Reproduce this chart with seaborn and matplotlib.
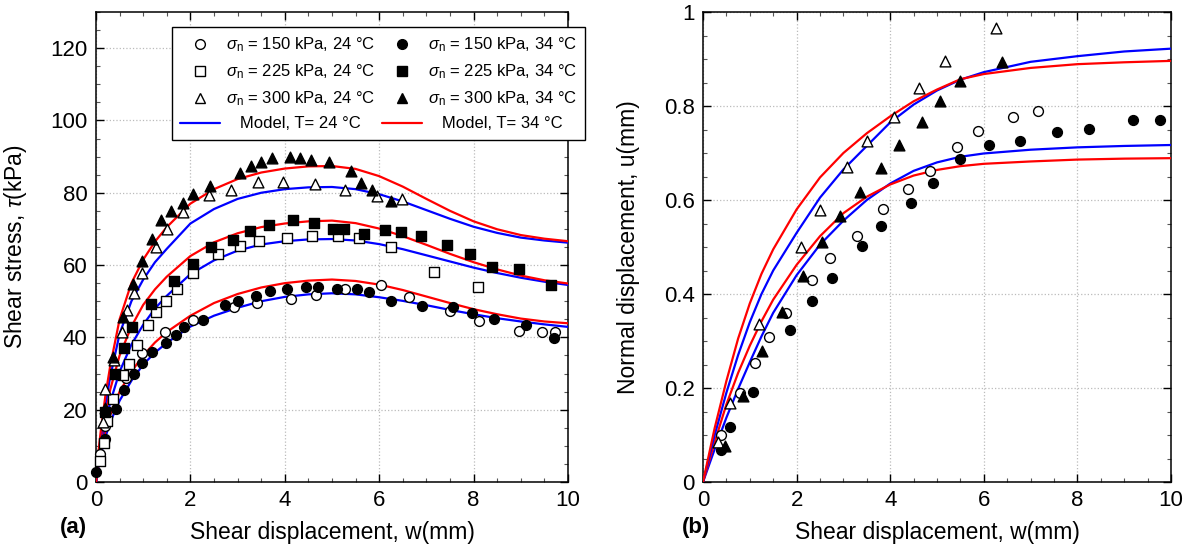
import matplotlib
matplotlib.use("Agg")
import numpy as np
import pandas as pd
import matplotlib.pyplot as plt
import seaborn as sns
from matplotlib.lines import Line2D
from matplotlib.ticker import MultipleLocator, FuncFormatter

sns.set_style("ticks")
plt.rcParams['font.family'] = ['Liberation Sans', 'DejaVu Sans']
plt.rcParams['mathtext.fontset'] = 'custom'
plt.rcParams['mathtext.rm'] = 'Liberation Sans'
plt.rcParams['mathtext.it'] = 'Liberation Sans:italic'
for k in ['text.color', 'axes.labelcolor', 'xtick.color', 'ytick.color', 'axes.edgecolor']:
    plt.rcParams[k] = 'black'

# ---------------- (a) shear stress data ----------------
w_150_24 = [0.08, 0.19, 0.64, 0.97, 1.46, 2.06, 2.92, 3.42, 4.13, 4.66, 5.28, 6.04, 6.63, 7.49, 8.12, 8.97, 9.44, 9.72]
t_150_24 = [7.7, 15.5, 28.7, 35.6, 41.4, 44.8, 48.4, 49.4, 50.6, 51.7, 53.4, 54.5, 51.2, 47.3, 44.4, 41.8, 41.4, 41.4]

w_150_34 = [0.01, 0.19, 0.42, 0.59, 0.81, 0.97, 1.18, 1.48, 1.69, 1.87, 2.26, 2.73, 3.01, 3.40, 3.69, 4.04, 4.45, 4.71,
            5.11, 5.54, 5.78, 6.24, 6.91, 7.56, 7.97, 8.44, 9.10, 9.70]
t_150_34 = [2.9, 11.8, 20.2, 25.4, 30.0, 33.0, 36.0, 38.5, 40.6, 42.8, 44.8, 48.9, 50.0, 51.5, 52.8, 53.3, 53.8, 53.8,
            53.4, 53.3, 52.6, 50.0, 48.7, 48.3, 46.8, 45.1, 43.4, 39.9]

w_225_24 = [0.08, 0.17, 0.24, 0.37, 0.58, 0.70, 0.86, 1.11, 1.27, 1.48, 1.71, 2.05, 2.58, 3.05, 3.46, 4.04, 4.58,
            5.13, 5.58, 6.24, 7.17, 8.09]
t_225_24 = [5.7, 10.9, 17.0, 23.0, 29.6, 32.6, 37.9, 43.5, 47.1, 50.0, 53.4, 57.7, 63.0, 65.2, 66.6, 67.5, 68.0,
            68.0, 67.4, 64.9, 58.1, 54.0]

w_225_34 = [0.19, 0.40, 0.60, 0.76, 1.17, 1.66, 2.06, 2.43, 2.90, 3.26, 3.67, 4.18, 4.61, 5.03, 5.25, 5.68, 6.13,
            6.46, 6.88, 7.43, 7.92, 8.40, 8.96, 9.63]
t_225_34 = [19.4, 29.9, 37.1, 43.0, 49.2, 55.7, 60.3, 64.9, 66.9, 69.5, 71.0, 72.4, 71.6, 70.1, 70.1, 68.6, 69.7,
            69.2, 68.0, 65.5, 63.0, 59.4, 59.0, 54.5]

w_300_24 = [0.14, 0.19, 0.38, 0.55, 0.65, 0.81, 0.97, 1.27, 1.51, 1.85, 2.40, 2.85, 3.43, 3.96, 4.65, 5.27, 5.95, 6.49]
t_300_24 = [16.7, 25.6, 33.7, 41.6, 47.6, 52.3, 57.9, 65.1, 70.0, 74.6, 79.3, 80.9, 82.9, 83.0, 82.3, 80.9, 79.2, 78.4]

w_300_34 = [0.19, 0.37, 0.58, 0.79, 0.97, 1.18, 1.38, 1.58, 1.84, 2.05, 2.42, 3.05, 3.28, 3.49, 3.73, 4.10, 4.32,
            4.56, 4.93, 5.40, 5.61, 5.85, 6.26]
t_300_34 = [20.5, 34.6, 45.7, 54.7, 61.2, 67.1, 72.6, 75.0, 77.3, 79.6, 81.8, 85.5, 87.4, 88.4, 89.6, 89.9, 89.6,
            89.1, 88.6, 86.1, 82.7, 80.7, 77.8]

# model curves (a)
mw = [0, 0.05, 0.1, 0.2, 0.3, 0.5, 0.75, 1, 1.25, 1.5, 2, 2.5, 3, 3.5, 4, 4.5, 5, 5.5, 6, 6.5, 7, 7.5, 8, 8.5, 9,
      9.5, 10]
m_150_24 = [0, 4, 7.5, 12.5, 16.5, 22.5, 28, 32.5, 35.8, 38.5, 43, 46, 48.2, 50, 51.2, 51.9, 52.2, 51.9, 51.1,
            50.1, 48.9, 47.6, 46.4, 45.3, 44.4, 43.6, 42.9]
m_150_34 = [0, 4.5, 8.5, 14, 18.5, 25, 30.5, 35, 38.6, 41.5, 46, 49.5, 52, 53.8, 55, 55.7, 56, 55.6, 54.6, 53.1,
            51.3, 49.5, 47.8, 46.4, 45.2, 44.4, 43.9]
m_225_24 = [0, 5, 9.5, 16.5, 22, 30.5, 38, 43.5, 48, 51.5, 57.5, 61.3, 64, 65.7, 66.6, 67.1, 67.2, 66.8, 65.8,
            64.4, 62.7, 61.0, 59.3, 57.8, 56.5, 55.4, 54.5]
m_225_34 = [0, 6, 11, 19, 25.5, 35, 43, 49, 53.3, 56.8, 62.5, 66.3, 68.8, 70.5, 71.5, 72.1, 72.3, 71.6, 70.1,
            68.0, 65.6, 63.1, 60.8, 58.8, 57.1, 55.8, 54.9]
m_300_24 = [0, 7, 12.5, 21.5, 29, 41, 50, 56, 60.8, 64.5, 71.5, 75.5, 78.3, 80, 81, 81.5, 81.6, 81.0, 79.6, 77.6,
            75.2, 72.8, 70.6, 68.9, 67.6, 66.8, 66.2]
m_300_34 = [0, 8, 14, 24, 32, 45, 55, 61.5, 66.5, 70.5, 77, 81, 83.8, 85.6, 86.7, 87.3, 87.4, 86.6, 84.6, 81.7,
            78.3, 75.0, 72.1, 69.9, 68.3, 67.3, 66.6]

# ---------------- (b) normal displacement data ----------------
u_w_150_24 = [0.38, 0.78, 1.11, 1.40, 1.77, 2.32, 2.71, 3.30, 3.85, 4.39, 4.85, 5.43, 5.88, 6.63, 7.16]
u_150_24 = [0.100, 0.189, 0.254, 0.308, 0.360, 0.430, 0.477, 0.524, 0.580, 0.623, 0.662, 0.713, 0.747, 0.777, 0.790]

u_w_150_34 = [0.38, 0.58, 1.06, 1.86, 2.32, 2.75, 3.39, 3.80, 4.44, 4.91, 5.49, 6.12, 6.77, 7.56, 8.25, 9.19, 9.76]
u_150_34 = [0.068, 0.116, 0.191, 0.323, 0.385, 0.435, 0.502, 0.545, 0.594, 0.637, 0.687, 0.716, 0.726, 0.744,
            0.751, 0.770, 0.770]

u_w_300_24 = [0.31, 0.58, 1.20, 2.09, 2.50, 3.08, 3.50, 4.08, 4.62, 5.17, 6.25]
u_300_24 = [0.086, 0.169, 0.336, 0.501, 0.579, 0.671, 0.726, 0.776, 0.839, 0.896, 0.965]

u_w_300_34 = [0.47, 0.86, 1.25, 1.68, 2.13, 2.54, 2.93, 3.35, 3.80, 4.19, 4.69, 5.06, 5.49, 6.38]
u_300_34 = [0.077, 0.183, 0.279, 0.362, 0.439, 0.510, 0.567, 0.618, 0.669, 0.717, 0.767, 0.811, 0.853, 0.893]

uw = [0, 0.25, 0.5, 0.75, 1, 1.25, 1.5, 2, 2.5, 3, 3.5, 4, 4.5, 5, 5.5, 6, 7, 8, 9, 10]
mu_150_24 = [0, 0.07, 0.137, 0.198, 0.255, 0.31, 0.36, 0.44, 0.505, 0.556, 0.60, 0.635, 0.662, 0.68, 0.692,
             0.699, 0.707, 0.712, 0.715, 0.717]
mu_150_34 = [0, 0.085, 0.165, 0.232, 0.29, 0.342, 0.388, 0.462, 0.523, 0.572, 0.607, 0.633, 0.652, 0.664, 0.672,
             0.677, 0.682, 0.686, 0.688, 0.689]
mu_300_24 = [0, 0.10, 0.19, 0.27, 0.34, 0.40, 0.45, 0.53, 0.605, 0.665, 0.715, 0.765, 0.803, 0.833, 0.856,
             0.872, 0.894, 0.906, 0.916, 0.922]
mu_300_34 = [0, 0.115, 0.215, 0.305, 0.38, 0.443, 0.495, 0.58, 0.648, 0.70, 0.742, 0.778, 0.81, 0.835, 0.857,
             0.868, 0.881, 0.889, 0.893, 0.896]

lab_150_24 = r'$\sigma_{\rm n}$ = 150 kPa, 24 °C'
lab_225_24 = r'$\sigma_{\rm n}$ = 225 kPa, 24 °C'
lab_300_24 = r'$\sigma_{\rm n}$ = 300 kPa, 24 °C'
lab_150_34 = r'$\sigma_{\rm n}$ = 150 kPa, 34 °C'
lab_225_34 = r'$\sigma_{\rm n}$ = 225 kPa, 34 °C'
lab_300_34 = r'$\sigma_{\rm n}$ = 300 kPa, 34 °C'

fig = plt.figure(figsize=(11.95, 5.52), dpi=100)
ax1 = fig.add_axes([96/1195, 70/552, 472/1195, 470/552])
ax2 = fig.add_axes([703/1195, 70/552, 468/1195, 470/552])


def model(ax, x, y, c):
    sns.lineplot(x=x, y=y, ax=ax, color=c, lw=1.6, sort=False, estimator=None, zorder=3)


def pts(ax, x, y, m, filled, s):
    sns.scatterplot(x=x, y=y, ax=ax, marker=m, s=s, facecolor='black' if filled else 'white',
                    edgecolor='black', linewidth=1.0, zorder=4, clip_on=False)


# panel (a)
model(ax1, mw, m_150_24, 'blue')
model(ax1, mw, m_150_34, 'red')
model(ax1, mw, m_225_24, 'blue')
model(ax1, mw, m_225_34, 'red')
model(ax1, mw, m_300_24, 'blue')
model(ax1, mw, m_300_34, 'red')
pts(ax1, w_150_24, t_150_24, 'o', False, 50)
pts(ax1, w_150_34, t_150_34, 'o', True, 50)
pts(ax1, w_225_24, t_225_24, 's', False, 44)
pts(ax1, w_225_34, t_225_34, 's', True, 44)
pts(ax1, w_300_24, t_300_24, '^', False, 60)
pts(ax1, w_300_34, t_300_34, '^', True, 60)

# panel (b)
model(ax2, uw, mu_150_24, 'blue')
model(ax2, uw, mu_150_34, 'red')
model(ax2, uw, mu_300_24, 'blue')
model(ax2, uw, mu_300_34, 'red')
pts(ax2, u_w_150_24, u_150_24, 'o', False, 50)
pts(ax2, u_w_150_34, u_150_34, 'o', True, 50)
pts(ax2, u_w_300_24, u_300_24, '^', False, 60)
pts(ax2, u_w_300_34, u_300_34, '^', True, 60)

for ax in (ax1, ax2):
    ax.set_xlim(0, 10)
    ax.xaxis.set_major_locator(MultipleLocator(2))
    ax.xaxis.set_minor_locator(MultipleLocator(0.5))
    ax.tick_params(which='both', direction='in', top=True, right=True, labelsize=16, pad=6, width=1)
    ax.tick_params(which='major', length=6)
    ax.tick_params(which='minor', length=3, width=0.8, color='#555555')
    ax.grid(True, which='major', ls=':', color='#bbbbbb', lw=0.9)
    for sp in ax.spines.values():
        sp.set_linewidth(1.1)
        sp.set_color('black')
    ax.set_xlabel('Shear displacement, w(mm)', fontsize=16.5)
    ax.xaxis.set_label_coords(0.5, -0.083)

ax1.set_ylim(0, 130)
ax1.set_yticks(np.arange(0, 121, 20))
ax1.yaxis.set_minor_locator(MultipleLocator(5))
ax1.set_ylabel(r'Shear stress, $\tau$(kPa)', fontsize=16.5)
ax1.yaxis.set_label_coords(-0.142, 0.5)

ax2.set_ylim(0, 1)
ax2.set_yticks(np.arange(0, 1.01, 0.2))
ax2.yaxis.set_major_formatter(FuncFormatter(lambda v, p: f'{v:g}'))
ax2.yaxis.set_minor_locator(MultipleLocator(0.05))
ax2.set_ylabel('Normal displacement, u(mm)', fontsize=16.5)
ax2.yaxis.set_label_coords(-0.134, 0.5)

handles = [
    Line2D([], [], ls='none', marker='o', ms=7, mfc='white', mec='black', mew=1, label=lab_150_24),
    Line2D([], [], ls='none', marker='s', ms=6.5, mfc='white', mec='black', mew=1, label=lab_225_24),
    Line2D([], [], ls='none', marker='^', ms=7.5, mfc='white', mec='black', mew=1, label=lab_300_24),
    Line2D([], [], color='blue', lw=1.6, label='   Model, T= 24 °C'),
    Line2D([], [], ls='none', marker='o', ms=7, mfc='black', mec='black', mew=1, label=lab_150_34),
    Line2D([], [], ls='none', marker='s', ms=6.5, mfc='black', mec='black', mew=1, label=lab_225_34),
    Line2D([], [], ls='none', marker='^', ms=7.5, mfc='black', mec='black', mew=1, label=lab_300_34),
    Line2D([], [], color='red', lw=1.6, label='   Model, T= 34 °C'),
]
leg = ax1.legend(handles=handles, ncol=2, loc='upper left', bbox_to_anchor=(0.161, 0.968),
                 borderaxespad=0, fontsize=12, frameon=True, fancybox=False,
                 edgecolor='black', framealpha=1, handlelength=2.4, handletextpad=0.36,
                 labelspacing=0.5, columnspacing=0.36, borderpad=0.5)
leg.get_frame().set_linewidth(1.0)
leg.set_zorder(10)

fig.text(60/1195, 1 - 528/552, '(a)', fontsize=16, fontweight='bold', va='center', ha='left')
fig.text(682/1195, 1 - 528/552, '(b)', fontsize=16, fontweight='bold', va='center', ha='left')

fig.savefig('out.png', dpi=100)
